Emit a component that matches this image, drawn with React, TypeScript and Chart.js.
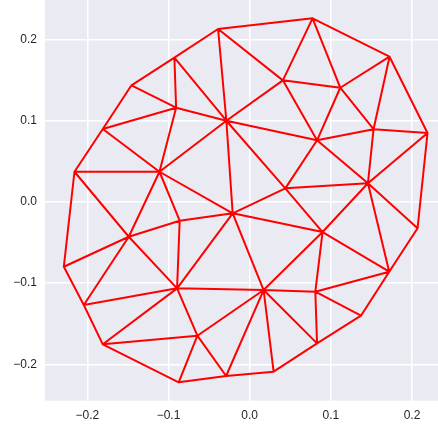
import React, { useEffect, useRef } from "react";
import { Chart, registerables } from "chart.js";

Chart.register(...registerables);

// Triangulation vertices
const pointX = [
  -0.0389, 0.0775, 0.1723, 0.2191, -0.0927, -0.1456, -0.1809, -0.2158, -0.2289, -0.2043,
  -0.1809, -0.0874, -0.029, 0.0295, 0.083, 0.1371, 0.1719, 0.2068, -0.0906, -0.0287,
  0.0409, 0.1116, 0.1526, 0.083, -0.1111, 0.0439, 0.1457, -0.0209, -0.0862, -0.1489,
  0.0898, -0.0894, -0.0644, 0.0172, 0.0809,
];
const pointY = [
  0.2127, 0.2258, 0.1786, 0.0847, 0.1774, 0.1434, 0.0896, 0.037, -0.0799, -0.127,
  -0.1754, -0.2222, -0.2144, -0.2091, -0.1742, -0.1402, -0.086, -0.0326, 0.1158, 0.0998,
  0.1495, 0.1404, 0.0894, 0.0757, 0.037, 0.0166, 0.0228, -0.0142, -0.0233, -0.043,
  -0.0372, -0.1065, -0.1648, -0.1086, -0.1106,
];

// Triangle edges (vertex index pairs)
const edges: [number, number][] = [
  [0, 1], [1, 2], [2, 3], [3, 17], [17, 16], [16, 15], [15, 14], [14, 13], [13, 12], [12, 11],
  [11, 10], [10, 9], [9, 8], [8, 7], [7, 6], [6, 5], [5, 4], [4, 0],
  [4, 18], [4, 19], [0, 19], [0, 20], [5, 18], [18, 19], [19, 20], [18, 6], [18, 24], [19, 24],
  [19, 27], [19, 25], [19, 23], [20, 21], [1, 20], [1, 21], [2, 21], [2, 22], [20, 23], [21, 23],
  [21, 22], [22, 3], [22, 23], [3, 26], [23, 25], [23, 26], [22, 26], [26, 17], [26, 16], [26, 25],
  [26, 30], [16, 30], [16, 34], [15, 34], [25, 27], [25, 30], [27, 30], [27, 28], [24, 27], [27, 33],
  [27, 31], [30, 33], [30, 34], [33, 34], [33, 31], [33, 32], [33, 12], [33, 13], [33, 14], [34, 14],
  [32, 12], [32, 31], [32, 10], [32, 11], [29, 8], [29, 9], [29, 31], [29, 28], [29, 24], [29, 7],
  [9, 31], [10, 31], [31, 28], [6, 24], [7, 24], [24, 28],
];

const tickValues = [-0.2, -0.1, 0, 0.1, 0.2];
const tickLabels = ["\u22120.2", "\u22120.1", "0.0", "0.1", "0.2"];
const xLimits = [-0.2521, 0.232];
const yLimits = [-0.2448, 0.2484];

const FONT = "'Liberation Sans', Arial, 'DejaVu Sans', sans-serif";

export default function App() {
  const ref = useRef<HTMLCanvasElement>(null);
  useEffect(() => {
    const data: { x: number; y: number | null }[] = [];
    for (const [a, b] of edges) {
      data.push({ x: pointX[a], y: pointY[a] });
      data.push({ x: pointX[b], y: pointY[b] });
      data.push({ x: pointX[b], y: null });
    }
    const bg = {
      id: "bg",
      beforeDraw(chart: any) {
        const { ctx, chartArea: a } = chart;
        ctx.save();
        ctx.fillStyle = "#EAEAF2";
        ctx.fillRect(a.left, a.top, a.right - a.left, a.bottom - a.top);
        ctx.restore();
      },
    };
    const label = (v: any) => {
      const i = tickValues.findIndex((t) => Math.abs(t - Number(v)) < 1e-9);
      return i >= 0 ? tickLabels[i] : "";
    };
    const setTicks = (s: any) => {
      s.ticks = tickValues.map((v) => ({ value: v }));
    };
    const chart = new Chart(ref.current!, {
      type: "scatter",
      data: {
        datasets: [
          {
            data: data as any,
            showLine: true,
            borderColor: "#FF0000",
            backgroundColor: "#FF0000",
            borderWidth: 2,
            pointRadius: 0,
            spanGaps: false,
            borderJoinStyle: "round",
            borderCapStyle: "round",
          } as any,
        ],
      },
      options: {
        animation: false,
        responsive: false,
        events: [],
        layout: { padding: 0 },
        plugins: { legend: { display: false }, tooltip: { enabled: false } },
        scales: {
          x: {
            type: "linear",
            min: xLimits[0],
            max: xLimits[1],
            afterBuildTicks: setTicks,
            afterFit: (s: any) => {
              s.height = 27.3;
              s.paddingLeft = 0;
              s.paddingRight = 0;
            },
            grid: { color: "#FFFFFF", lineWidth: 1.5, drawTicks: false },
            border: { display: false },
            ticks: { padding: 8, color: "#262626", font: { family: FONT, size: 12 }, callback: label, maxRotation: 0 },
          },
          y: {
            type: "linear",
            min: yLimits[0],
            max: yLimits[1],
            afterBuildTicks: setTicks,
            afterFit: (s: any) => {
              s.width = 45;
              s.paddingTop = 0;
              s.paddingBottom = 0;
            },
            grid: { color: "#FFFFFF", lineWidth: 1.5, drawTicks: false },
            border: { display: false },
            ticks: { padding: 8, color: "#262626", font: { family: FONT, size: 12 }, callback: label },
          },
        },
      },
      plugins: [bg],
    });
    return () => chart.destroy();
  }, []);
  return (
    <canvas
      ref={ref}
      width={438}
      height={428}
      style={{ position: "absolute", left: 0, top: 0, display: "block", width: 438, height: 428 }}
    />
  );
}
